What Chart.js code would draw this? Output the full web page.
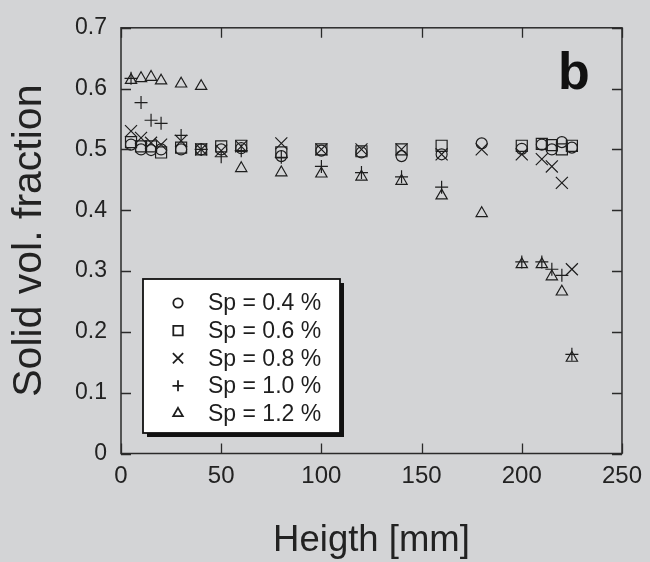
<!DOCTYPE html>
<html>
<head>
<meta charset="utf-8">
<script src="https://cdn.jsdelivr.net/npm/chart.js@4/dist/chart.umd.min.js"></script>
<style>
    html, body { margin: 0; padding: 0; background: #d3d4d6; }
    #wrap { width: 650px; height: 562px; }
</style>
</head>
<body>
<div id="wrap"><canvas id="chart" width="650" height="562"></canvas></div>
<script>
// 数据 (高度 mm / 固体体积分数)
const xSp04 = [5, 10, 15, 20, 30, 40, 50, 60, 80, 100, 120, 140, 160, 180, 200, 210, 215, 220, 225];
const ySp04 = [0.508, 0.500, 0.499, 0.500, 0.500, 0.500, 0.500, 0.502, 0.489, 0.498, 0.495, 0.489, 0.492, 0.510, 0.501, 0.508, 0.500, 0.512, 0.503];

const xSp06 = [5, 10, 15, 20, 30, 40, 50, 60, 80, 100, 120, 140, 160, 200, 210, 215, 220, 225];
const ySp06 = [0.512, 0.505, 0.505, 0.495, 0.503, 0.500, 0.505, 0.506, 0.495, 0.500, 0.497, 0.500, 0.506, 0.506, 0.509, 0.507, 0.500, 0.506];

const xSp08 = [5, 10, 15, 20, 30, 40, 50, 60, 80, 100, 120, 140, 160, 180, 200, 210, 215, 220, 225];
const ySp08 = [0.530, 0.519, 0.511, 0.508, 0.514, 0.500, 0.498, 0.505, 0.510, 0.500, 0.500, 0.500, 0.492, 0.500, 0.492, 0.484, 0.472, 0.445, 0.303];

const xSp10 = [5, 10, 15, 20, 30, 40, 50, 60, 80, 100, 120, 140, 160, 200, 210, 215, 220, 225];
const ySp10 = [0.617, 0.577, 0.548, 0.543, 0.523, 0.500, 0.488, 0.498, 0.487, 0.472, 0.462, 0.455, 0.438, 0.315, 0.315, 0.303, 0.293, 0.163];

const xSp12 = [5, 10, 15, 20, 30, 40, 60, 80, 100, 120, 140, 160, 180, 200, 210, 215, 220, 225];
const ySp12 = [0.614, 0.617, 0.619, 0.613, 0.608, 0.604, 0.469, 0.462, 0.460, 0.455, 0.448, 0.424, 0.395, 0.311, 0.311, 0.291, 0.266, 0.157];

const seriesLabels = ['Sp = 0.4 %', 'Sp = 0.6 %', 'Sp = 0.8 %', 'Sp = 1.0 %', 'Sp = 1.2 %'];
const xTicks = [0, 50, 100, 150, 200, 250];
const yTicks = ['0', '0.1', '0.2', '0.3', '0.4', '0.5', '0.6', '0.7'];

const INK = '#1e1e1e';
const FONT = '"Liberation Sans", Arial, sans-serif';

function toPoints(xs, ys) {
    return xs.map((x, i) => ({ x: x, y: ys[i] }));
}

function makeSet(label, xs, ys, style, radius) {
    return {
        label: label,
        data: toPoints(xs, ys),
        pointStyle: style,
        pointRadius: radius,
        pointHoverRadius: radius,
        borderColor: INK,
        backgroundColor: 'rgba(0,0,0,0)',
        borderWidth: 1.2,
        showLine: false
    };
}

// 外框 + 向内刻度
const framePlugin = {
    id: 'frame',
    afterDatasetsDraw(chart) {
        const { ctx, chartArea: a, scales } = chart;
        const tl = 10;
        ctx.save();
        ctx.strokeStyle = '#2a2a2a';
        ctx.lineWidth = 1.5;
        ctx.strokeRect(a.left, a.top, a.right - a.left, a.bottom - a.top);
        ctx.lineWidth = 1.3;
        ctx.beginPath();
        scales.x.ticks.forEach(t => {
            const px = Math.round(scales.x.getPixelForValue(t.value)) + 0.5;
            ctx.moveTo(px, a.bottom); ctx.lineTo(px, a.bottom - tl);
            ctx.moveTo(px, a.top); ctx.lineTo(px, a.top + tl);
        });
        scales.y.ticks.forEach(t => {
            const py = Math.round(scales.y.getPixelForValue(t.value)) + 0.5;
            ctx.moveTo(a.left, py); ctx.lineTo(a.left + tl, py);
            ctx.moveTo(a.right, py); ctx.lineTo(a.right - tl, py);
        });
        ctx.stroke();

        // 面板标记 b
        ctx.fillStyle = '#111';
        ctx.font = 'bold 52px ' + FONT;
        ctx.textAlign = 'center';
        ctx.textBaseline = 'alphabetic';
        ctx.fillText('b', 574, 89);
        ctx.restore();
    }
};

// 图例框 (左下, 带阴影)
const legendBoxPlugin = {
    id: 'legendBox',
    afterDraw(chart) {
        const { ctx } = chart;
        const box = { left: 143, top: 279, width: 197, height: 154 };
        ctx.save();
        ctx.fillStyle = '#111';
        ctx.fillRect(box.left + 4, box.top + 4, box.width, box.height);
        ctx.fillStyle = '#ffffff';
        ctx.fillRect(box.left, box.top, box.width, box.height);
        ctx.strokeStyle = '#111';
        ctx.lineWidth = 1.8;
        ctx.strokeRect(box.left, box.top, box.width, box.height);

        ctx.font = '23px ' + FONT;
        ctx.textAlign = 'left';
        ctx.textBaseline = 'middle';
        chart.data.datasets.forEach((ds, i) => {
            const y = 303 + i * 27.6;
            ctx.fillStyle = '#ffffff';
            ctx.strokeStyle = INK;
            Chart.helpers.drawPoint(ctx, {
                pointStyle: ds.pointStyle,
                radius: ds.pointRadius * 0.85,
                borderWidth: 1.1
            }, 178, y);
            ctx.fillStyle = INK;
            ctx.fillText(ds.label, 208, y + 1);
        });
        ctx.restore();
    }
};

const ctx = document.getElementById('chart').getContext('2d');
const chart = new Chart(ctx, {
    type: 'scatter',
    data: {
        datasets: [
            makeSet(seriesLabels[0], xSp04, ySp04, 'circle', 5.5),
            makeSet(seriesLabels[1], xSp06, ySp06, 'rect', 7.8),
            makeSet(seriesLabels[2], xSp08, ySp08, 'crossRot', 8.5),
            makeSet(seriesLabels[3], xSp10, ySp10, 'cross', 6.5),
            makeSet(seriesLabels[4], xSp12, ySp12, 'triangle', 6.5)
        ]
    },
    options: {
        responsive: false,
        animation: false,
        layout: { padding: { left: 0, right: 23, top: 24, bottom: 0 } },
        plugins: {
            legend: { display: false },
            tooltip: { enabled: false }
        },
        scales: {
            x: {
                type: 'linear',
                min: 0,
                max: 250,
                afterFit: s => { s.height = 108.5; },
                afterBuildTicks: s => { s.ticks = xTicks.map(v => ({ value: v })); },
                grid: { display: false, drawTicks: false },
                border: { display: false },
                ticks: {
                    color: '#222',
                    padding: 8,
                    maxRotation: 0,
                    font: { family: FONT, size: 24 },
                    callback: v => String(v)
                },
                title: {
                    display: true,
                    text: 'Heigth [mm]',
                    color: '#222',
                    font: { family: FONT, size: 36.5, lineHeight: 1 },
                    padding: { top: 0, bottom: 3 }
                }
            },
            y: {
                type: 'linear',
                min: 0,
                max: 0.7,
                afterFit: s => { s.width = 121; },
                afterBuildTicks: s => { s.ticks = yTicks.map(t => ({ value: parseFloat(t) })); },
                grid: { display: false, drawTicks: false },
                border: { display: false },
                ticks: {
                    color: '#222',
                    padding: 14,
                    font: { family: FONT, size: 23 },
                    callback: (v, i) => yTicks[i]
                },
                title: {
                    display: true,
                    text: 'Solid vol. fraction',
                    color: '#222',
                    font: { family: FONT, size: 41, lineHeight: 1 },
                    padding: { top: 9, bottom: 0 }
                }
            }
        }
    },
    plugins: [framePlugin, legendBoxPlugin]
});
</script>
</body>
</html>
